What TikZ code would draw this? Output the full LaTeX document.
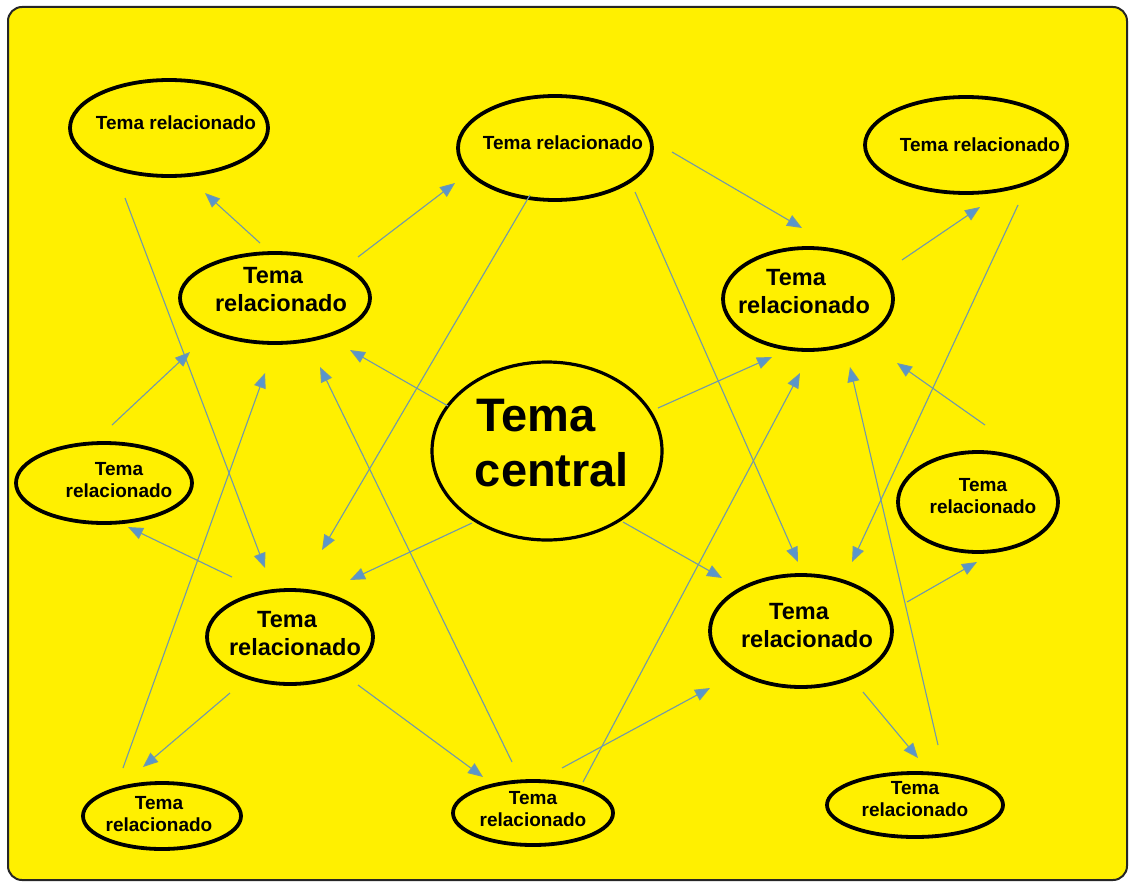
\documentclass[tikz,border=0pt]{standalone}
\usepackage{fontspec}
\setmainfont{Liberation Sans}
\usetikzlibrary{calc,shapes.geometric,arrows.meta}
\definecolor{mapyellow}{RGB}{255,240,0}
\definecolor{linkblue}{RGB}{88,150,204}
\definecolor{linkgrey}{RGB}{112,152,172}
\tikzset{
	topic/.style={draw=black, line width=3.8pt, shape=ellipse, inner sep=0pt},
	link/.style={draw=linkgrey, line width=1.1pt, -{Triangle[length=15pt,width=12pt,fill=linkblue]}},
	smalltxt/.style={font=\bfseries\fontsize{19}{22}\selectfont, align=center},
	midtxt/.style={font=\bfseries\fontsize{23.5}{28}\selectfont, align=center},
	bigtxt/.style={font=\bfseries\fontsize{47}{55}\selectfont, align=center}
}

\begin{document}
\begin{tikzpicture}[x=1pt, y=-1pt]
		%%%%% FRAME %%%%%
		\useasboundingbox (0,0) rectangle (1129,883);
		\draw[fill=mapyellow, draw=black!85, line width=2pt, rounded corners=14pt] (8,7) rectangle (1127,880);
		
		%%%%% TOPICS %%%%%
		\node[topic, line width=3.2pt, minimum width=230pt, minimum height=178pt, label={[bigtxt, xshift=5pt, yshift=8pt]center:{Tema\hspace*{32pt}\\central}}] (cen) at (547,451) {};
		
		\node[topic, minimum width=198pt, minimum height=96pt, label={[smalltxt, xshift=7pt, yshift=5pt]center:Tema relacionado}] (tl) at (169,128) {};
		\node[topic, minimum width=194pt, minimum height=104pt, label={[smalltxt, xshift=8pt, yshift=5pt]center:Tema relacionado}] (tm) at (555,148) {};
		\node[topic, minimum width=202pt, minimum height=96pt, label={[smalltxt, xshift=14pt]center:Tema relacionado}] (tr) at (966,145) {};
		
		\node[topic, minimum width=190pt, minimum height=90pt, label={[midtxt, xshift=6pt, yshift=8pt]center:{Tema\hspace*{16pt}\\relacionado}}] (lu) at (275,298) {};
		\node[topic, minimum width=170pt, minimum height=102pt, label={[midtxt, xshift=-4pt, yshift=7pt]center:{Tema\hspace*{16pt}\\relacionado}}] (ru) at (808,299) {};
		
		\node[topic, minimum width=176pt, minimum height=80pt, label={[smalltxt, xshift=15pt, yshift=3pt]center:{Tema\\relacionado}}] (lm) at (104,483) {};
		\node[topic, minimum width=160pt, minimum height=100pt, label={[smalltxt, xshift=5pt, yshift=6pt]center:{Tema\\relacionado}}] (rm) at (978,502) {};
		
		\node[topic, minimum width=166pt, minimum height=94pt, label={[midtxt, xshift=5pt, yshift=3pt]center:{Tema\hspace*{16pt}\\relacionado}}] (ll) at (290,637) {};
		\node[topic, minimum width=182pt, minimum height=112pt, label={[midtxt, xshift=6pt, yshift=5pt]center:{Tema\hspace*{16pt}\\relacionado}}] (rl) at (801,631) {};
		
		\node[topic, minimum width=158pt, minimum height=66pt, label={[smalltxt, xshift=-3pt, yshift=2pt]center:{Tema\\relacionado}}] (bl) at (162,816) {};
		\node[topic, minimum width=160pt, minimum height=64pt, label={[smalltxt, yshift=4pt]center:{Tema\\relacionado}}] (bm) at (533,813) {};
		\node[topic, minimum width=176pt, minimum height=64pt, label={[smalltxt, yshift=6pt]center:{Tema\\relacionado}}] (br) at (915,805) {};
		
		%%%%% LINKS %%%%%
		\draw[link] ($(lu)+(-15,-55)$) -- ($(tl)+(36,65)$);
		\draw[link] ($(lu)+(83,-41)$) -- ($(tm)+(-100,35)$);
		\draw[link] ($(tl)+(-44,70)$) -- ($(ll)+(-25,-69)$);
		\draw[link] ($(tm)+(-25,47)$) -- ($(ll)+(32,-87)$);
		\draw[link] ($(tm)+(80,44)$) -- ($(rl)+(-3,-69)$);
		\draw[link] ($(tm)+(117,4)$) -- ($(ru)+(-6,-71)$);
		\draw[link] ($(ru)+(94,-39)$) -- ($(tr)+(14,62)$);
		\draw[link] ($(tr)+(52,60)$) -- ($(rl)+(51,-69)$);
		
		\draw[link] ($(cen)+(-99,-45)$) -- ($(lu)+(75,52)$);
		\draw[link] ($(cen)+(111,-43)$) -- ($(ru)+(-36,58)$);
		\draw[link] ($(cen)+(-75,72)$) -- ($(ll)+(60,-57)$);
		\draw[link] ($(cen)+(76,71)$) -- ($(rl)+(-79,-53)$);
		
		\draw[link] ($(lm)+(8,-58)$) -- ($(lu)+(-85,54)$);
		\draw[link] ($(ll)+(-58,-60)$) -- ($(lm)+(24,44)$);
		\draw[link] ($(bl)+(-39,-48)$) -- ($(lu)+(-10,75)$);
		\draw[link] ($(ll)+(-60,56)$) -- ($(bl)+(-19,-49)$);
		\draw[link] ($(ll)+(68,48)$) -- ($(bm)+(-50,-36)$);
		
		\draw[link] ($(bm)+(-21,-51)$) -- ($(lu)+(45,69)$);
		\draw[link] ($(bm)+(29,-45)$) -- ($(rl)+(-91,57)$);
		\draw[link] ($(bm)+(50,-31)$) -- ($(ru)+(-8,74)$);
		
		\draw[link] ($(rm)+(7,-77)$) -- ($(ru)+(89,64)$);
		\draw[link] ($(rl)+(106,-29)$) -- ($(rm)+(-1,60)$);
		\draw[link] ($(rl)+(62,61)$) -- ($(br)+(3,-47)$);
		\draw[link] ($(br)+(23,-60)$) -- ($(ru)+(42,68)$);
		
		%%%%% END %%%%%
	\end{tikzpicture}
\end{document}
